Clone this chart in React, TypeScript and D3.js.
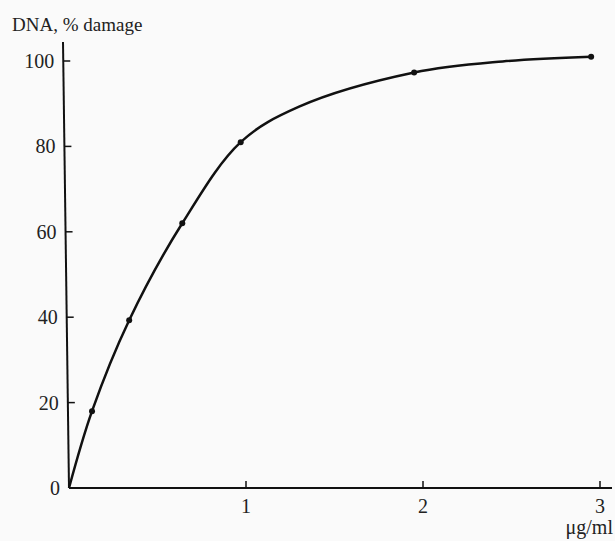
import { useEffect, useRef } from "react";
import * as d3 from "d3";

const width = 615;
const height = 541;

// measured points (dose in µg/ml, % damage)
const doses = [0.13, 0.34, 0.64, 0.97, 1.95, 2.95];
const damage = [18, 39.3, 62, 81, 97.3, 101];
// fitted curve
const curveDoses = [0, 0.13, 0.34, 0.64, 0.97, 1.3, 1.95, 2.45, 2.95];
const curveDamage = [0, 18, 39.3, 62, 81, 89.3, 97.3, 99.9, 101];
const xTicks = [1, 2, 3];
const yTicks = [0, 20, 40, 60, 80, 100];

export default function App() {
  const svgRef = useRef<SVGSVGElement | null>(null);

  useEffect(() => {
    if (!svgRef.current) return;
    const svg = d3.select(svgRef.current);
    svg.selectAll("*").remove();

    const x = d3.scaleLinear().domain([0, 3]).range([69, 600]);
    const y = d3.scaleLinear().domain([0, 100]).range([488, 61]);

    const font = "'Liberation Serif', 'DejaVu Serif', serif";

    svg.append("rect").attr("width", width).attr("height", height).attr("fill", "#fafafa");

    // axes
    svg
      .append("line")
      .attr("x1", x(0))
      .attr("x2", 612)
      .attr("y1", y(0))
      .attr("y2", y(0))
      .attr("stroke", "#111")
      .attr("stroke-width", 2);
    svg
      .append("line")
      .attr("x1", x(0))
      .attr("x2", x(0) - 6)
      .attr("y1", y(0))
      .attr("y2", 42)
      .attr("stroke", "#111")
      .attr("stroke-width", 2);

    // y ticks (inside)
    const yt = svg.append("g");
    yTicks.forEach((v) => {
      const xi = x(0) - 6 * ((y(0) - y(v)) / (y(0) - 42));
      if (v > 0)
        yt.append("line")
          .attr("x1", xi)
          .attr("x2", xi + 7)
          .attr("y1", y(v))
          .attr("y2", y(v))
          .attr("stroke", "#111")
          .attr("stroke-width", 1.5);
      yt.append("text")
        .attr("x", xi - 9)
        .attr("y", y(v))
        .attr("dy", "0.35em")
        .attr("text-anchor", "end")
        .attr("font-family", font)
        .attr("font-size", 20)
        .attr("fill", "#222")
        .text(v);
    });

    // x ticks (pointing up)
    const xt = svg.append("g");
    xTicks.forEach((v) => {
      xt.append("line")
        .attr("x1", x(v))
        .attr("x2", x(v))
        .attr("y1", y(0))
        .attr("y2", y(0) - 7)
        .attr("stroke", "#111")
        .attr("stroke-width", 1.5);
      xt.append("text")
        .attr("x", x(v))
        .attr("y", y(0) + 25)
        .attr("text-anchor", "middle")
        .attr("font-family", font)
        .attr("font-size", 20)
        .attr("fill", "#222")
        .text(v);
    });

    // axis titles
    svg
      .append("text")
      .attr("x", 12)
      .attr("y", 31)
      .attr("font-family", font)
      .attr("font-size", 19)
      .attr("fill", "#222")
      .text("DNA, % damage");
    svg
      .append("text")
      .attr("x", 613)
      .attr("y", 534)
      .attr("text-anchor", "end")
      .attr("font-family", font)
      .attr("font-size", 20)
      .attr("fill", "#222")
      .text("μg/ml");

    // smooth curve
    const trace: [number, number][] = curveDoses.map((d, i) => [d, curveDamage[i]]);
    const line = d3
      .line<[number, number]>()
      .x((d) => x(d[0]))
      .y((d) => y(d[1]))
      .curve(d3.curveCatmullRom.alpha(0.5));
    svg
      .append("path")
      .attr("d", line(trace))
      .attr("fill", "none")
      .attr("stroke", "#111")
      .attr("stroke-width", 2.5);

    // measured points
    svg
      .append("g")
      .selectAll("circle")
      .data(doses)
      .join("circle")
      .attr("cx", (d) => x(d))
      .attr("cy", (_, i) => y(damage[i]))
      .attr("r", 3)
      .attr("fill", "#111");
  }, []);

  return (
    <svg
      ref={svgRef}
      width={width}
      height={height}
      style={{ position: "absolute", left: 0, top: 0 }}
    />
  );
}
